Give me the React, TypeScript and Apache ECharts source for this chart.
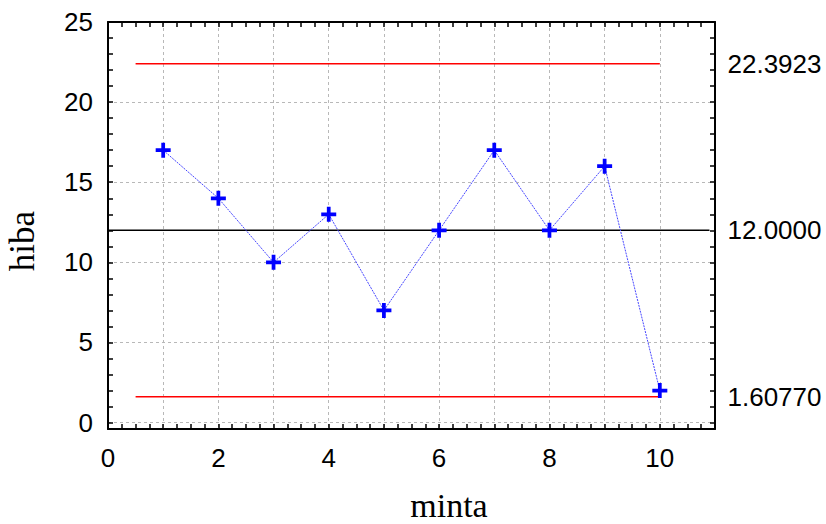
import React, { useEffect, useRef } from 'react';
import * as echarts from 'echarts';

// ---- data ----
const samples = [1, 2, 3, 4, 5, 6, 7, 8, 9, 10];
const errors = [17, 14, 10, 13, 7, 12, 17, 12, 16, 2];
const uclValue = 22.3923;
const clValue = 12.0;
const lclValue = 1.6077;
const limitValues = [uclValue, clValue, lclValue];
const limitLabels = ['22.3923', '12.0000', '1.60770'];
const limitStart = 0.5;
const limitEnd = 10;
const clStart = 0;
const clEnd = 10.9;
const xTitle = 'minta';
const yTitle = 'hiba';

const SANS = 'Liberation Sans';
const SERIF = 'Liberation Serif';

const frameLine = { show: true, onZero: false, lineStyle: { color: '#000', width: 2 } };
const tick = { show: true, inside: true, length: 5, lineStyle: { color: '#000', width: 1.5 } };
const gridLine = { show: true, lineStyle: { color: '#b8b8b8', width: 1, type: [3, 3] as any } };

export default function App() {
  const ref = useRef<HTMLDivElement>(null);
  useEffect(() => {
    if (!ref.current) return;
    const chart = echarts.init(ref.current, undefined, { renderer: 'svg' });
    const plusPath = 'path://M6,0H10V6H16V10H10V16H6V10H0V6H6Z';
    const option: any = {
      animation: false,
      backgroundColor: '#fff',
      grid: { left: 108, right: 111, top: 22, bottom: 95, containLabel: false },
      xAxis: [
        {
          type: 'value', position: 'bottom', min: 0, max: 11, interval: 1,
          axisLine: frameLine, axisTick: tick,
          minorTick: { show: true, splitNumber: 4, length: 5, lineStyle: { color: '#000', width: 1.5 } },
          axisLabel: {
            fontSize: 26, fontFamily: SANS, color: '#000', margin: 16,
            formatter: (v: number) => (Math.round(v) % 2 === 0 ? String(Math.round(v)) : ''),
          },
          splitLine: gridLine,
        },
        {
          type: 'value', position: 'top', min: 0, max: 11, interval: 1,
          axisLine: frameLine, axisTick: tick,
          minorTick: { show: true, splitNumber: 4, length: 5, lineStyle: { color: '#000', width: 1.5 } },
          axisLabel: { show: false }, splitLine: { show: false },
        },
      ],
      yAxis: [
        {
          type: 'value', position: 'left', min: -0.4, max: 25, splitNumber: 25,
          axisLine: frameLine, axisTick: tick,
          axisLabel: {
            fontSize: 26, fontFamily: SANS, color: '#000', margin: 15,
            formatter: (v: number) => (v >= 0 && Math.abs(v - Math.round(v / 5) * 5) < 1e-6 ? String(Math.round(v)) : ''),
          },
          splitLine: { show: false },
        },
        {
          type: 'value', position: 'left', min: -0.4, max: 25, splitNumber: 5,
          axisLine: { show: false }, axisTick: { show: false }, axisLabel: { show: false },
          splitLine: gridLine,
        },
        {
          type: 'value', position: 'right', min: -0.4, max: 25, splitNumber: 25,
          axisLine: frameLine, axisTick: tick, axisLabel: { show: false }, splitLine: { show: false },
        },
      ],
      series: [
        {
          type: 'line', name: 'CL', xAxisIndex: 0, yAxisIndex: 0, symbol: 'none', silent: true,
          data: [[clStart, clValue], [clEnd, clValue]],
          lineStyle: { color: '#000', width: 1.5 }, z: 3,
        },
        {
          type: 'line', name: 'UCL', xAxisIndex: 0, yAxisIndex: 0, symbol: 'none', silent: true,
          data: [[limitStart, uclValue], [limitEnd, uclValue]],
          lineStyle: { color: '#ff0000', width: 1.5 }, z: 3,
        },
        {
          type: 'line', name: 'LCL', xAxisIndex: 0, yAxisIndex: 0, symbol: 'none', silent: true,
          data: [[limitStart, lclValue], [limitEnd, lclValue]],
          lineStyle: { color: '#ff0000', width: 1.5 }, z: 3,
        },
        {
          type: 'line', name: 'hiba', xAxisIndex: 0, yAxisIndex: 0,
          data: samples.map((s, i) => [s, errors[i]]),
          symbol: plusPath, symbolSize: 15, showAllSymbol: true,
          itemStyle: { color: '#0000ff' },
          lineStyle: { color: '#4646ff', width: 1, type: [2, 1] },
          z: 5,
        },
        {
          type: 'scatter', name: 'limits', xAxisIndex: 0, yAxisIndex: 0, clip: false, silent: true,
          symbolSize: 1, itemStyle: { color: 'rgba(0,0,0,0)' },
          data: limitValues.map((v) => [11, v]),
          label: {
            show: true, position: 'right', distance: 12, opacity: 1,
            fontSize: 26, fontFamily: SANS, color: '#000',
            formatter: (p: any) => limitLabels[p.dataIndex],
          },
          z: 6,
        },
      ],
      graphic: [
        {
          type: 'text', x: 22, y: 241, rotation: Math.PI / 2,
          style: { text: yTitle, fontSize: 35, fontFamily: SERIF, fill: '#000', align: 'center', verticalAlign: 'middle' },
        },
        {
          type: 'text', x: 449, y: 505,
          style: { text: xTitle, fontSize: 34, fontFamily: SERIF, fill: '#000', align: 'center', verticalAlign: 'middle' },
        },
      ],
    };
    chart.setOption(option);
    return () => chart.dispose();
  }, []);
  return <div ref={ref} style={{ position: 'fixed', left: 0, top: 0, width: 826, height: 524 }} />;
}
